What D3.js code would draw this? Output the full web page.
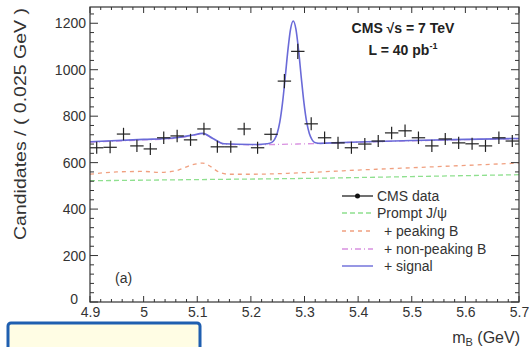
<!DOCTYPE html>
<html><head><meta charset="utf-8">
<script src="https://cdn.jsdelivr.net/npm/d3@7"></script>
<style>body{margin:0;background:#fff}svg{display:block}text{font-family:"Liberation Sans",Arial,sans-serif}</style>
</head><body><svg id="c" width="531" height="347"></svg>
<script>
// ---- data ----
const binCenters = [4.9125,4.9375,4.9625,4.9875,5.0125,5.0375,5.0625,5.0875,5.1125,5.1375,5.1625,5.1875,5.2125,5.2375,5.2625,5.2875,5.3125,5.3375,5.3625,5.3875,5.4125,5.4375,5.4625,5.4875,5.5125,5.5375,5.5625,5.5875,5.6125,5.6375,5.6625,5.6875];
const dataCounts = [664,666,723,672,659,707,715,698,745,668,668,745,664,722,951,1079,767,707,685,664,680,693,728,737,707,672,702,685,681,672,707,693];
const dataErrors = [26,26,27,26,26,27,27,26,27,26,26,27,26,27,31,33,28,27,26,26,26,26,27,27,27,26,26,26,26,26,27,26];
const promptX = [4.9,5.1,5.3,5.5,5.7];
const promptY = [522,527,532,540,548];
const peakingX = [4.9,4.95,5.0,5.03,5.06,5.09,5.11,5.12,5.14,5.16,5.2,5.3,5.4,5.5,5.6,5.7];
const peakingY = [550,560,562,558,565,590,598,590,560,550,550,557,568,578,588,598];
const nonPeakX = [4.9,5.0,5.05,5.09,5.11,5.13,5.15,5.2,5.3,5.4,5.5,5.6,5.7];
const nonPeakY = [688,698,703,716,724,702,680,677,681,688,694,699,703];
const signalX = [4.9,5.0,5.05,5.09,5.11,5.13,5.15,5.2,5.22,5.23,5.239,5.244,5.249,5.254,5.259,5.264,5.269,5.274,5.279,5.284,5.289,5.294,5.299,5.304,5.309,5.314,5.319,5.33,5.34,5.4,5.5,5.6,5.7];
const signalY = [690,700,705,718,726,703,681,678,679,681,687,699,725,775,857,966,1083,1175,1210,1175,1083,966,857,775,725,699,687,683,684,689,695,700,704];
const xTicks = [4.9,5.0,5.1,5.2,5.3,5.4,5.5,5.6,5.7];
const xTickLabels = ["4.9","5","5.1","5.2","5.3","5.4","5.5","5.6","5.7"];
const yTicks = [0,200,400,600,800,1000,1200];
const yTickLabels = ["0","200","400","600","800","1000","1200"];
const legendLabels = ["CMS data","Prompt J/\u03C8","+ peaking B","+ non-peaking B","+ signal"];

// ---- layout ----
const L=90,R=519,T=7,B=302;
const svg=d3.select("#c");
const x=d3.scaleLinear().domain([4.9,5.7]).range([L,R]);
const y=d3.scaleLinear().domain([0,1270]).range([B,T]);
const axisCol="#333";

// curves
const line=(xs,ys)=>d3.line().x((d,i)=>x(xs[i])).y((d,i)=>y(ys[i])).curve(d3.curveMonotoneX)(ys);
svg.append("path").attr("d",line(promptX,promptY)).attr("fill","none").attr("stroke","#8fe08f").attr("stroke-width",1.3).attr("stroke-dasharray","5,3");
svg.append("path").attr("d",line(peakingX,peakingY)).attr("fill","none").attr("stroke","#f0a080").attr("stroke-width",1.3).attr("stroke-dasharray","4,4");
svg.append("path").attr("d",line(nonPeakX,nonPeakY)).attr("fill","none").attr("stroke","#d890e0").attr("stroke-width",1.3).attr("stroke-dasharray","6,3,1,3");
svg.append("path").attr("d",line(signalX,signalY)).attr("fill","none").attr("stroke","#6a6ad8").attr("stroke-width",1.6);

// data points with error bars
const hw=(x(4.925)-x(4.9))/2;
const g=svg.append("g").attr("stroke","#222").attr("stroke-width",1.2);
binCenters.forEach((c,i)=>{
  g.append("line").attr("x1",x(c)-hw).attr("x2",x(c)+hw).attr("y1",y(dataCounts[i])).attr("y2",y(dataCounts[i]));
  g.append("line").attr("x1",x(c)).attr("x2",x(c)).attr("y1",y(dataCounts[i]-dataErrors[i])).attr("y2",y(dataCounts[i]+dataErrors[i]));
});

// frame
svg.append("rect").attr("x",L).attr("y",T).attr("width",R-L).attr("height",B-T).attr("fill","none").attr("stroke",axisCol).attr("stroke-width",1.2);

// ticks
const tk=svg.append("g").attr("stroke",axisCol).attr("stroke-width",1);
d3.range(4.9,5.7001,0.02).forEach(v=>{
  const major=xTicks.some(t=>Math.abs(t-v)<1e-6); const len=major?6:3;
  tk.append("line").attr("x1",x(v)).attr("x2",x(v)).attr("y1",B).attr("y2",B-len);
  tk.append("line").attr("x1",x(v)).attr("x2",x(v)).attr("y1",T).attr("y2",T+len);
});
d3.range(0,1270,40).forEach(v=>{
  const major=v%200===0; const len=major?8:4;
  tk.append("line").attr("y1",y(v)).attr("y2",y(v)).attr("x1",L).attr("x2",L+len);
  tk.append("line").attr("y1",y(v)).attr("y2",y(v)).attr("x1",R).attr("x2",R-len);
});

// axes labels via d3 axes
const xa=svg.append("g").attr("transform",`translate(0,${B})`)
  .call(d3.axisBottom(x).tickValues(xTicks).tickFormat((d,i)=>xTickLabels[i]).tickSize(0).tickPadding(5));
xa.select(".domain").remove();
xa.selectAll("text").attr("font-size",14).attr("fill","#333").attr("font-family","Liberation Sans, Arial, sans-serif");
const ya=svg.append("g").attr("transform",`translate(${L},0)`)
  .call(d3.axisLeft(y).tickValues(yTicks).tickFormat((d,i)=>yTickLabels[i]).tickSize(0).tickPadding(4));
ya.select(".domain").remove();
ya.selectAll("text").attr("font-size",14).attr("fill","#333").attr("font-family","Liberation Sans, Arial, sans-serif");
ya.selectAll("text").filter(d=>d===0).attr("x",-12).attr("dy","0.1em");

// axis titles
svg.append("text").attr("transform","translate(26,8) rotate(-90)").attr("text-anchor","end")
  .attr("font-size",17).attr("fill","#333").attr("textLength",232).attr("lengthAdjust","spacingAndGlyphs")
  .text("Candidates / ( 0.025 GeV )");
const xt=svg.append("text").attr("x",520).attr("y",343).attr("text-anchor","end").attr("font-size",16).attr("fill","#333");
xt.append("tspan").text("m");
xt.append("tspan").attr("font-size",11).attr("dy",3).text("B");
xt.append("tspan").attr("dy",-3).text(" (GeV)");

// CMS labels
const ct=svg.append("text").attr("x",403).attr("y",33).attr("text-anchor","middle").attr("font-size",14).attr("font-weight","bold").attr("fill","#222");
ct.append("tspan").text("CMS ");
ct.append("tspan").text("\u221As");
ct.append("tspan").text(" = 7 TeV");
const lt=svg.append("text").attr("x",403).attr("y",55).attr("text-anchor","middle").attr("font-size",14).attr("font-weight","bold").attr("fill","#222");
lt.append("tspan").text("L = 40 pb");
lt.append("tspan").attr("font-size",9).attr("dy",-6).text("-1");
svg.append("text").attr("x",115).attr("y",283).attr("font-size",14).attr("fill","#333").text("(a)");

// legend
const lg=svg.append("g");
const rowY=[196,213,231,249,266];
const styles=[null,{c:"#8fe08f",d:"5,3"},{c:"#f0a080",d:"4,4"},{c:"#d890e0",d:"6,3,1,3"},{c:"#6a6ad8",d:null}];
legendLabels.forEach((lab,i)=>{
  if(i===0){
    lg.append("line").attr("x1",342).attr("x2",373).attr("y1",rowY[i]).attr("y2",rowY[i]).attr("stroke","#222").attr("stroke-width",1.3);
    lg.append("circle").attr("cx",357.5).attr("cy",rowY[i]).attr("r",2.5).attr("fill","#111");
  } else {
    const s=styles[i];
    const ln=lg.append("line").attr("x1",342).attr("x2",373).attr("y1",rowY[i]).attr("y2",rowY[i]).attr("stroke",s.c).attr("stroke-width",1.4);
    if(s.d) ln.attr("stroke-dasharray",s.d);
  }
  lg.append("text").attr("x",i<2?377:384).attr("y",rowY[i]+5).attr("font-size",14).attr("fill","#333").text(lab);
});

// bottom-left highlighted box
svg.append("rect").attr("x",8).attr("y",323).attr("width",192).attr("height",40).attr("rx",3)
  .attr("fill","#fffde4").attr("stroke","#1f5fb0").attr("stroke-width",3);
</script></body></html>
